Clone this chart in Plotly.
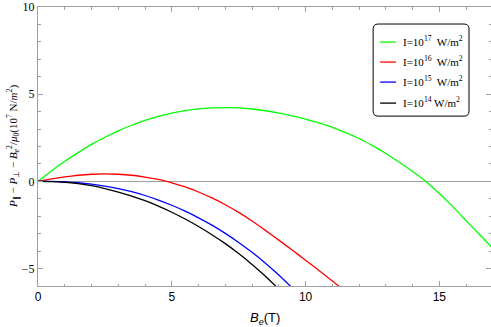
import plotly.graph_objects as go

# Magnetic field B_e (T) sample points
b_green = [0, 0.5, 1, 1.5, 2, 2.5, 3, 3.5, 4, 4.5, 5, 5.5, 6, 6.5, 7, 7.5, 8, 8.5, 9, 9.5,
           10, 10.5, 11, 11.5, 12, 12.5, 13, 13.5, 14, 14.5, 15, 15.5, 16, 16.5, 17]
y_green = [0, 0.6, 1.15, 1.65, 2.12, 2.53, 2.9, 3.22, 3.5, 3.73, 3.92, 4.06, 4.16, 4.21, 4.23,
           4.21, 4.15, 4.05, 3.92, 3.76, 3.57, 3.35, 3.1, 2.8, 2.46, 2.05, 1.6, 1.1, 0.57, 0.0,
           -0.7, -1.45, -2.25, -3.05, -3.85]

b_red = [0, 0.5, 1, 1.5, 2, 2.5, 3, 3.5, 4, 4.5, 5, 5.5, 6, 6.5, 7, 7.5, 8, 8.5, 9, 9.5,
         10, 10.5, 11, 11.5]
y_red = [0, 0.14, 0.26, 0.35, 0.41, 0.43, 0.41, 0.35, 0.25, 0.11, -0.08, -0.32, -0.61,
         -0.95, -1.34, -1.78, -2.27, -2.81, -3.37, -3.94, -4.52, -5.11, -5.71, -6.32]

b_blue = [0, 0.5, 1, 1.5, 2, 2.5, 3, 3.5, 4, 4.5, 5, 5.5, 6, 6.5, 7, 7.5, 8, 8.5, 9, 9.5]
y_blue = [0, -0.005, -0.03, -0.08, -0.16, -0.27, -0.41, -0.59, -0.81, -1.07, -1.37, -1.71,
          -2.09, -2.51, -2.98, -3.5, -4.07, -4.69, -5.37, -6.11]

b_black = [0, 0.5, 1, 1.5, 2, 2.5, 3, 3.5, 4, 4.5, 5, 5.5, 6, 6.5, 7, 7.5, 8, 8.5, 9]
y_black = [0, -0.01, -0.05, -0.13, -0.25, -0.41, -0.61, -0.84, -1.11, -1.42, -1.77, -2.16,
           -2.59, -3.06, -3.57, -4.14, -4.76, -5.44, -6.18]

series_names = ["I=10<sup>17</sup>  W/m<sup>2</sup>", "I=10<sup>16</sup>  W/m<sup>2</sup>",
                "I=10<sup>15</sup>  W/m<sup>2</sup>", "I=10<sup>14</sup> W/m<sup>2</sup>"]
series_colors = ["#00ff00", "#ff0000", "#0000ff", "#000000"]

x_ticks = [0, 5, 10, 15]
y_ticks = [-5, 0, 5, 10]
y_tick_text = ["−5", "0", "5", "10"]

W, H = 491, 327
L, R, T, B = 37.5, 0, 7, 41.3
pw, ph = W - L - R, H - T - B


def px(x):
    return (x - L) / pw


def py(y):
    return (H - B - y) / ph


fig = go.Figure()
for xs, ys, name, col in zip([b_green, b_red, b_blue, b_black],
                             [y_green, y_red, y_blue, y_black],
                             series_names, series_colors):
    fig.add_trace(go.Scatter(x=xs, y=ys, mode="lines", name=name, showlegend=False,
                             line=dict(color=col, width=1.3, shape="spline", smoothing=0.5)))

# custom legend (rounded box, line samples, labels)
bx0, bx1, by0, by1, r = 373, 469, 24, 116, 5
path = (f"M {px(bx0 + r)} {py(by0)} L {px(bx1 - r)} {py(by0)} "
        f"Q {px(bx1)} {py(by0)} {px(bx1)} {py(by0 + r)} L {px(bx1)} {py(by1 - r)} "
        f"Q {px(bx1)} {py(by1)} {px(bx1 - r)} {py(by1)} L {px(bx0 + r)} {py(by1)} "
        f"Q {px(bx0)} {py(by1)} {px(bx0)} {py(by1 - r)} L {px(bx0)} {py(by0 + r)} "
        f"Q {px(bx0)} {py(by0)} {px(bx0 + r)} {py(by0)} Z")
shapes = [dict(type="path", path=path, xref="paper", yref="paper",
               line=dict(color="black", width=1), fillcolor="white", layer="above")]
annotations = []
entry_y = [42, 62, 82, 103]
for yy, name, col in zip(entry_y, series_names, series_colors):
    shapes.append(dict(type="line", xref="paper", yref="paper",
                       x0=px(380), x1=px(396), y0=py(yy), y1=py(yy),
                       line=dict(color=col, width=1.3), layer="above"))
    annotations.append(dict(text=name, xref="paper", yref="paper", x=px(401), y=py(yy - 1),
                            xanchor="left", yanchor="middle", showarrow=False,
                            font=dict(family="Liberation Serif", size=11, color="black")))

annotations += [
    dict(text="<i>B<sub>e</sub></i>(T)", xref="paper", yref="paper",
         x=0.5, y=py(318), xanchor="center", yanchor="middle", showarrow=False,
         font=dict(family="Liberation Sans", size=13, color="black")),
    dict(text="<i>P</i><sub>∥</sub> − <i>P</i><sub>⊥</sub> − <i>B<sub>e</sub></i><sup>2</sup>/<i>μ</i><sub>0</sub>(10<sup>7</sup> N/<i>m</i><sup>2</sup>)",
         xref="paper", yref="paper", x=px(12), y=0.5, xanchor="center", yanchor="middle",
         textangle=-90, showarrow=False,
         font=dict(family="Liberation Serif", size=11, color="black")),
]

frame = "#a0a0a0"
fig.update_layout(
    width=W, height=H,
    margin=dict(l=L, r=R, t=T, b=B, pad=0),
    paper_bgcolor="white", plot_bgcolor="white",
    showlegend=False,
    xaxis=dict(range=[0, 16.93], showgrid=False, zeroline=False,
               showline=True, linecolor=frame, linewidth=1, mirror="allticks",
               ticks="inside", ticklen=5, tickcolor=frame, tickvals=x_ticks,
               tickfont=dict(family="Liberation Sans", size=12, color="black"),
               minor=dict(dtick=1, ticks="inside", ticklen=2.5, tickcolor=frame)),
    yaxis=dict(range=[-6, 10], showgrid=False, zeroline=True, zerolinecolor=frame,
               zerolinewidth=1,
               showline=True, linecolor=frame, linewidth=1, mirror="allticks",
               ticks="inside", ticklen=5, tickcolor=frame,
               tickvals=y_ticks, ticktext=y_tick_text,
               tickfont=dict(family="Liberation Serif", size=12, color="black"),
               minor=dict(dtick=1, ticks="inside", ticklen=2.5, tickcolor=frame)),
    shapes=shapes,
    annotations=annotations,
)

fig.write_html("out.html", config={"displayModeBar": False},
               post_script="document.body.style.margin='0';")
